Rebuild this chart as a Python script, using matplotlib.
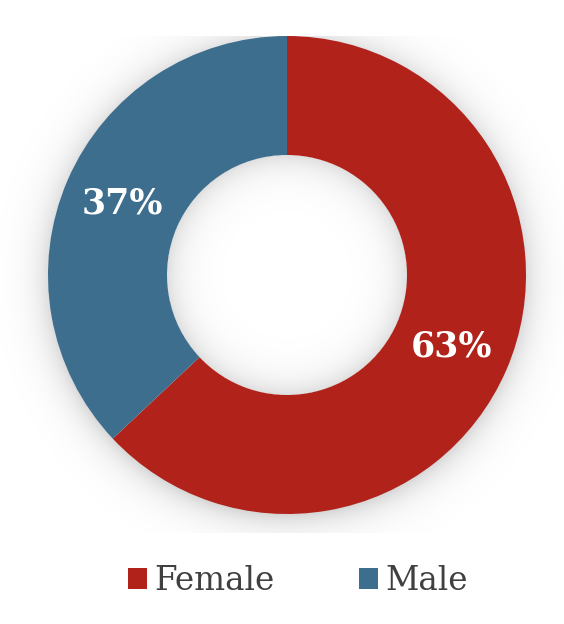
import numpy as np
import matplotlib
matplotlib.use("Agg")
import matplotlib.pyplot as plt
from matplotlib.patches import Patch

# ------------------ Data ------------------
labels = ["Female", "Male"]
shares = [63, 37]
colors = ["#B0221A", "#3E6E8E"]

W, H = 564, 624
cx, cy = 287, H - 275      # pie centre in pixel units (y up)
r_out, r_in = 239, 120

fig = plt.figure(figsize=(W / 100, H / 100), dpi=100)
fig.patch.set_facecolor("white")

# plot area (shadow gets clipped to it)
y_top, y_bot = 36, 533
ax = fig.add_axes([0, (H - y_bot) / H, 1, (y_bot - y_top) / H])
ax.set_xlim(0, W)
ax.set_ylim(H - y_bot, H - y_top)
ax.axis("off")

# ------------------ Soft shadows ------------------
xs = np.arange(0, W) + 0.5
ys = np.arange(H - y_bot, H - y_top) + 0.5
X, Y = np.meshgrid(xs, ys)
d_out = np.hypot(X - cx, Y - (cy - 3))
d_in = np.hypot(X - cx, Y - cy)
alpha = np.zeros_like(X)
outer = d_out > r_out - 4
alpha[outer] = 0.18 * np.exp(-(d_out[outer] - (r_out - 4)) / 15)
inner = d_in < r_in
alpha[inner] = 0.13 * np.exp(-(r_in - d_in[inner]) / 16)
shadow = np.zeros(X.shape + (4,))
shadow[..., 3] = alpha
ax.imshow(shadow, extent=(0, W, H - y_bot, H - y_top), origin="lower",
          interpolation="bilinear", zorder=0)

# ------------------ Donut ------------------
wedges, _, pcts = ax.pie(
    shares, colors=colors, startangle=90, counterclock=False,
    center=(cx, cy), radius=r_out, frame=True,
    wedgeprops=dict(width=r_out - r_in, linewidth=0),
    autopct=lambda p: f"{p:.0f}%", pctdistance=(r_out + r_in) / 2 / r_out,
    textprops=dict(color="white", fontsize=25, fontweight="bold",
                   family="DejaVu Serif"))
for w in wedges:
    w.set_zorder(2)
for t in pcts:
    t.set_zorder(3)
ax.set_xlim(0, W)
ax.set_ylim(H - y_bot, H - y_top)
ax.axis("off")

# ------------------ Legend ------------------
handles = [Patch(facecolor=c, edgecolor="none") for c in colors]
fig.legend(handles, labels, loc="center", bbox_to_anchor=(298 / W, 1 - 581 / H),
           ncol=2, frameon=False, handlelength=0.58, handleheight=0.58,
           handletextpad=0.22, columnspacing=2.6,
           prop=dict(family="DejaVu Serif", size=23.5), labelcolor="#404040")

fig.savefig("out.png", dpi=100, facecolor="white")
